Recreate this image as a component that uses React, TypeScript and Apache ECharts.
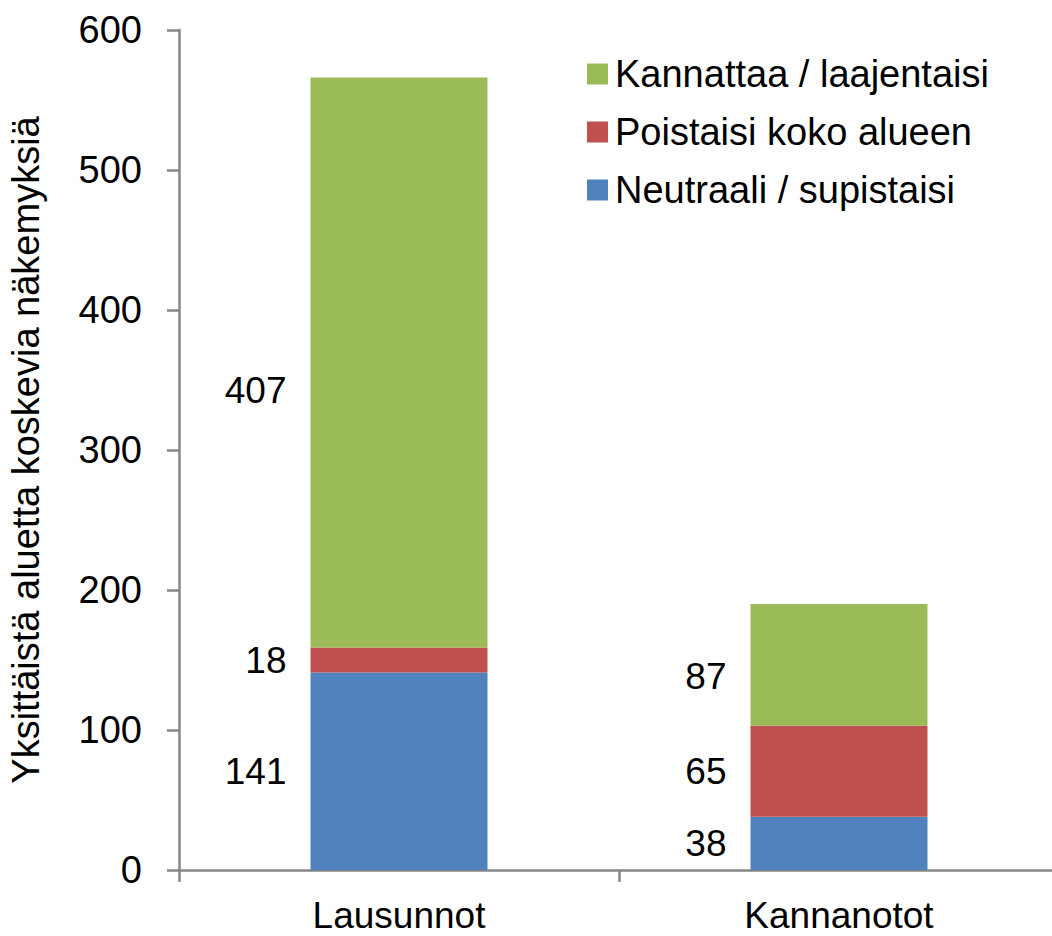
import React, { useEffect, useRef } from "react";
import * as echarts from "echarts";

const categories = ["Lausunnot", "Kannanotot"];
const neutraali = [141, 38];
const poistaisi = [18, 65];
const kannattaa = [407, 87];
const seriesNames = ["Neutraali / supistaisi", "Poistaisi koko alueen", "Kannattaa / laajentaisi"];
const yTicks = { min: 0, max: 600, interval: 100 };
const yAxisName = "Yksittäistä aluetta koskevia näkemyksiä";

const FONT = "'Liberation Sans', Arial, sans-serif";

export default function App() {
  const ref = useRef<HTMLDivElement>(null);
  useEffect(() => {
    document.body.style.margin = "0";
    if (!ref.current) return;
    const chart = echarts.init(ref.current, undefined, { renderer: "svg" });
    const labelBase = {
      show: true,
      position: "left",
      distance: 24,
      color: "#000",
      fontSize: 37,
      fontFamily: FONT,
    };
    const mk = (name: string, vals: number[], color: string, offsets: Record<number, number[]>) => ({
      name,
      type: "bar",
      stack: "total",
      barWidth: 177,
      itemStyle: { color },
      label: labelBase,
      data: vals.map((v, i) => (offsets[i] ? { value: v, label: { offset: offsets[i] } } : v)),
    });
    chart.setOption({
      animation: false,
      textStyle: { fontFamily: FONT },
      grid: { left: 179, top: 30, width: 880, height: 840, outerBoundsMode: "none", containLabel: false },
      legend: {
        orient: "vertical",
        left: 587,
        top: 55,
        padding: 0,
        itemWidth: 21,
        itemHeight: 21,
        itemGap: 20,
        icon: "rect",
        data: [seriesNames[2], seriesNames[1], seriesNames[0]],
        textStyle: { fontSize: 38, color: "#000", fontFamily: FONT, padding: [0, 0, 0, 2] },
      },
      xAxis: {
        type: "category",
        data: categories,
        axisLine: { lineStyle: { color: "#868686", width: 2.5 } },
        axisTick: { show: true, length: 12, lineStyle: { color: "#868686", width: 2.5 } },
        axisLabel: { fontSize: 37, color: "#000", margin: 27, fontFamily: FONT },
      },
      yAxis: {
        type: "value",
        min: yTicks.min,
        max: yTicks.max,
        interval: yTicks.interval,
        name: yAxisName,
        nameLocation: "middle",
        nameGap: 134,
        nameTextStyle: { fontSize: 38, color: "#000", fontFamily: FONT },
        splitLine: { show: false },
        axisLine: { show: true, lineStyle: { color: "#868686", width: 2.5 } },
        axisTick: { show: true, length: 12, lineStyle: { color: "#868686", width: 2.5 } },
        axisLabel: { fontSize: 38, color: "#000", margin: 37, fontFamily: FONT },
      },
      series: [
        mk(seriesNames[0], neutraali, "#4F81BD", {}),
        mk(seriesNames[1], poistaisi, "#C0504D", {}),
        mk(seriesNames[2], kannattaa, "#9BBB59", { 0: [0, 28], 1: [0, 12] }),
      ],
    });
    return () => chart.dispose();
  }, []);
  return <div ref={ref} style={{ width: 1052, height: 936 }} />;
}
